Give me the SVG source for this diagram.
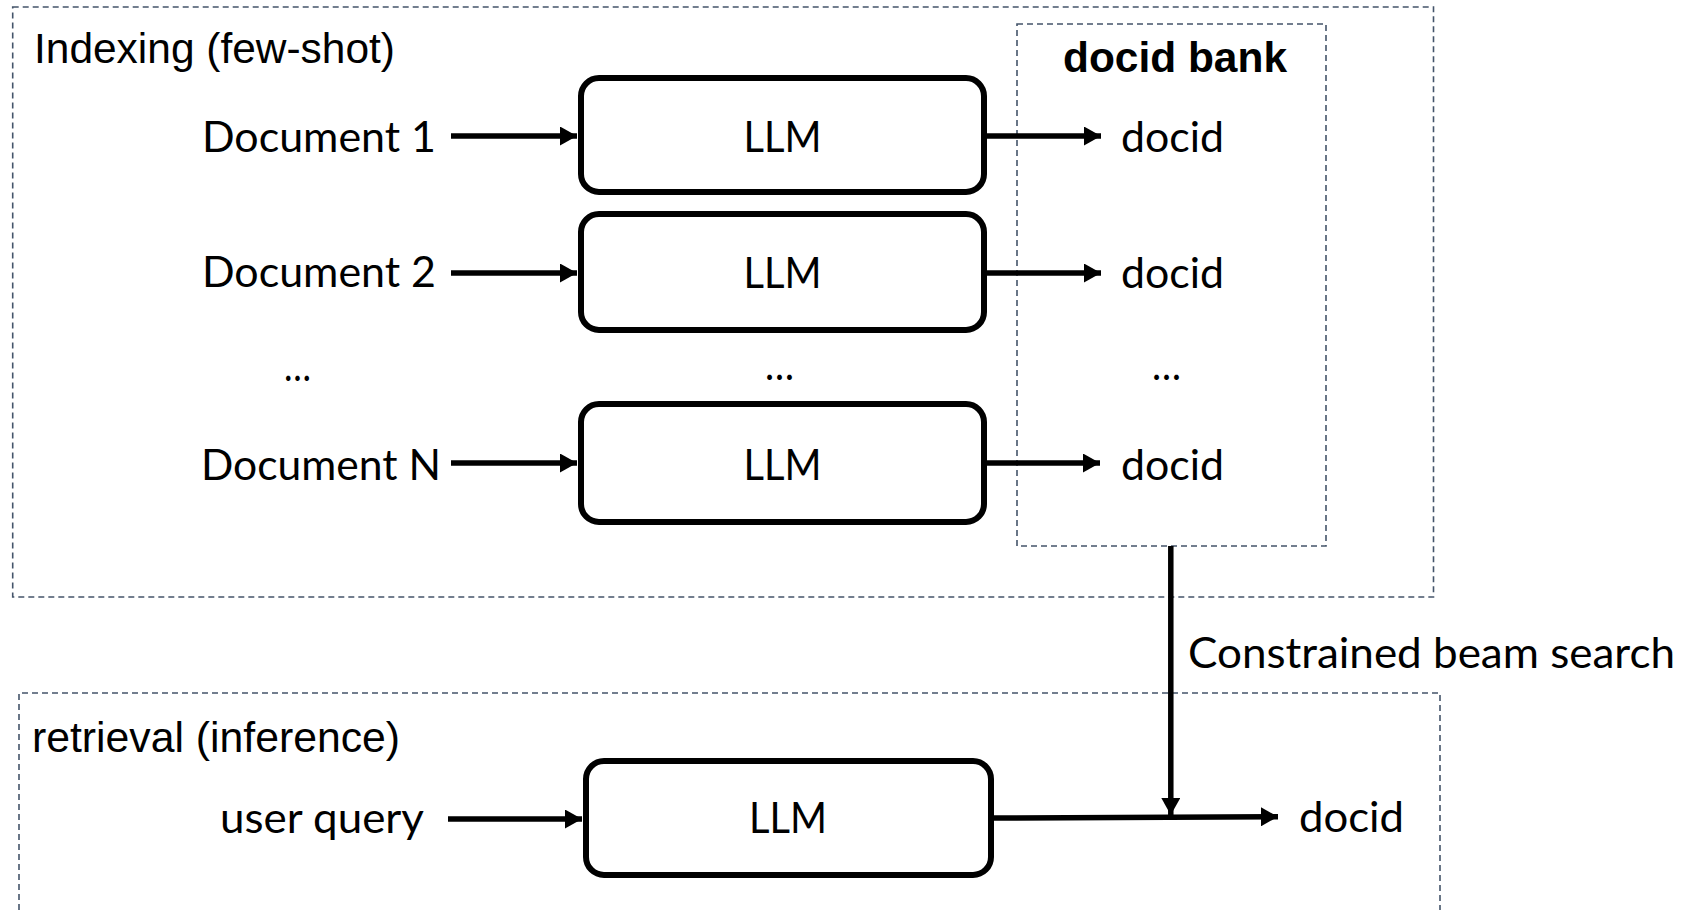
<svg xmlns="http://www.w3.org/2000/svg" width="1691" height="910" viewBox="0 0 1691 910">
  <style>
    .frame { fill: none; stroke: #44546A; stroke-width: 1.6; stroke-dasharray: 6 4; }
    .box { fill: #ffffff; stroke: #000000; stroke-width: 6; }
    .conn { fill: none; stroke: #000000; stroke-width: 5.5; }
    .lbl { font-family: Lato, "Open Sans", sans-serif; font-size: 42px; fill: #000000; }
    .ttl { font-family: "Liberation Sans", Arial, sans-serif; font-size: 42px; fill: #000000; }
    .bold { font-weight: bold; }
  </style>
  <defs>
    <marker id="ah" viewBox="0 0 10 10" refX="10" refY="5" markerWidth="17" markerHeight="19" markerUnits="userSpaceOnUse" orient="auto" preserveAspectRatio="none">
      <path d="M0,0 L10,5 L0,10 z" fill="#000000"/>
    </marker>
  </defs>
  <rect width="1691" height="910" fill="#ffffff"/>

  <g id="indexing-frame">
    <rect class="frame" x="12.7" y="7" width="1420.8" height="590"/>
    <text class="ttl" x="34" y="63" textLength="361" lengthAdjust="spacingAndGlyphs">Indexing (few-shot)</text>
  </g>
  <g id="retrieval-frame">
    <path class="frame" d="M19,920 L19,693 L1440,693 L1440,920"/>
    <text class="ttl" x="32" y="751.5" textLength="368" lengthAdjust="spacingAndGlyphs">retrieval (inference)</text>
  </g>
  <g id="docid-bank">
    <rect class="frame" x="1017" y="24" width="309" height="522"/>
    <text class="ttl bold" x="1063" y="72" textLength="224" lengthAdjust="spacingAndGlyphs">docid bank</text>
  </g>

  <g id="connectors">
    <line class="conn" x1="451" y1="136" x2="577" y2="136" marker-end="url(#ah)"/>
    <line class="conn" x1="451" y1="273" x2="577" y2="273" marker-end="url(#ah)"/>
    <line class="conn" x1="451" y1="463" x2="577" y2="463" marker-end="url(#ah)"/>
    <line class="conn" x1="984" y1="136" x2="1101" y2="136" marker-end="url(#ah)"/>
    <line class="conn" x1="984" y1="273" x2="1101" y2="273" marker-end="url(#ah)"/>
    <line class="conn" x1="984" y1="463" x2="1100" y2="463" marker-end="url(#ah)"/>
    <line class="conn" x1="448" y1="819" x2="582" y2="819" marker-end="url(#ah)"/>
    <line class="conn" x1="991" y1="818" x2="1278" y2="816.7" marker-end="url(#ah)"/>
    <line class="conn" x1="1170.8" y1="546" x2="1170.8" y2="815" marker-end="url(#ah)"/>
    <text class="lbl" x="1188" y="668" textLength="487" lengthAdjust="spacingAndGlyphs">Constrained beam search</text>
  </g>

  <g id="doc1"><text class="lbl" x="202" y="152" textLength="234" lengthAdjust="spacingAndGlyphs">Document 1</text></g>
  <g id="doc2"><text class="lbl" x="202" y="287" textLength="234" lengthAdjust="spacingAndGlyphs">Document 2</text></g>
  <g id="doc-ellipsis"><text class="lbl" x="284" y="381" textLength="27" lengthAdjust="spacingAndGlyphs">…</text></g>
  <g id="docN"><text class="lbl" x="201" y="479.5" textLength="240" lengthAdjust="spacingAndGlyphs">Document N</text></g>

  <g id="llm1">
    <rect class="box" x="581" y="78" width="403" height="114" rx="18"/>
    <text class="lbl" x="782.5" y="152" text-anchor="middle" textLength="78" lengthAdjust="spacingAndGlyphs">LLM</text>
  </g>
  <g id="llm2">
    <rect class="box" x="581" y="214" width="403" height="116" rx="18"/>
    <text class="lbl" x="782.5" y="288" text-anchor="middle" textLength="78" lengthAdjust="spacingAndGlyphs">LLM</text>
  </g>
  <g id="llm-ellipsis"><text class="lbl" x="765" y="380" textLength="29" lengthAdjust="spacingAndGlyphs">…</text></g>
  <g id="llm3">
    <rect class="box" x="581" y="404" width="403" height="118" rx="18"/>
    <text class="lbl" x="782.5" y="480" text-anchor="middle" textLength="78" lengthAdjust="spacingAndGlyphs">LLM</text>
  </g>

  <g id="docid1"><text class="lbl" x="1121" y="152" textLength="103" lengthAdjust="spacingAndGlyphs">docid</text></g>
  <g id="docid2"><text class="lbl" x="1121" y="288" textLength="103" lengthAdjust="spacingAndGlyphs">docid</text></g>
  <g id="docid-ellipsis"><text class="lbl" x="1152" y="380" textLength="29" lengthAdjust="spacingAndGlyphs">…</text></g>
  <g id="docid3"><text class="lbl" x="1121" y="479.5" textLength="103" lengthAdjust="spacingAndGlyphs">docid</text></g>

  <g id="user-query"><text class="lbl" x="220" y="833" textLength="204" lengthAdjust="spacingAndGlyphs">user query</text></g>
  <g id="llm4">
    <rect class="box" x="586" y="761" width="405" height="114" rx="18"/>
    <text class="lbl" x="788" y="833" text-anchor="middle" textLength="78" lengthAdjust="spacingAndGlyphs">LLM</text>
  </g>
  <g id="docid-out"><text class="lbl" x="1299" y="832" textLength="105" lengthAdjust="spacingAndGlyphs">docid</text></g>
</svg>
